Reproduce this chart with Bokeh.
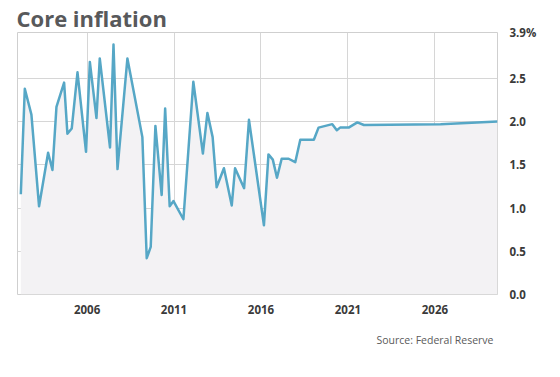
from bokeh.plotting import figure
from bokeh.models import Title, FixedTicker, ColumnDataSource
from bokeh.embed import file_html
from bokeh.resources import INLINE

# Core inflation (%)
years = [2002.19, 2002.42, 2002.80, 2003.24, 2003.76, 2004.01, 2004.24, 2004.68,
         2004.87, 2005.12, 2005.45, 2005.94, 2006.16, 2006.54, 2006.73, 2007.32,
         2007.52, 2007.75, 2008.32, 2009.18, 2009.43, 2009.66, 2009.93, 2010.29,
         2010.49, 2010.75, 2010.97, 2011.54, 2012.11, 2012.66, 2012.92, 2013.22,
         2013.45, 2013.87, 2014.32, 2014.51, 2015.03, 2015.31, 2016.17, 2016.43,
         2016.68, 2016.92, 2017.19, 2017.59, 2017.97, 2018.26, 2019.04, 2019.31,
         2020.10, 2020.36, 2020.55, 2021.04, 2021.54, 2021.92, 2026.33, 2029.60]
inflation = [1.16, 2.38, 2.08, 1.02, 1.64, 1.44, 2.17, 2.45,
             1.86, 1.92, 2.57, 1.65, 2.69, 2.04, 2.73, 1.70,
             2.89, 1.45, 2.73, 1.82, 0.42, 0.55, 1.95, 1.15,
             2.15, 1.02, 1.08, 0.87, 2.46, 1.63, 2.10, 1.82,
             1.24, 1.46, 1.03, 1.46, 1.23, 2.02, 0.80, 1.62,
             1.56, 1.35, 1.57, 1.57, 1.53, 1.79, 1.79, 1.93,
             1.97, 1.90, 1.93, 1.93, 1.99, 1.96, 1.97, 2.00]
floor = [0.0] * len(years)

x_ticks = [2006, 2011, 2016, 2021, 2026]
y_ticks = [0.0, 0.5, 1.0, 1.5, 2.0, 2.5, 3.03]
y_tick_labels = ["0.0", "0.5", "1.0", "1.5", "2.0", "2.5", "3.9%"]

title_text = "Core inflation"
source_text = "Source: Federal Reserve"

src = ColumnDataSource(dict(x=years, y=inflation, y0=floor))

p = figure(width=560, height=377, output_backend="svg", toolbar_location=None,
           x_range=(2002.0, 2029.6), y_range=(0, 3.03),
           y_axis_location="right",
           min_border_left=17, min_border_right=63, min_border_top=32,
           min_border_bottom=83)
p.background_fill_color = "white"
p.border_fill_color = "white"
p.outline_line_color = "#cfcfcf"
p.outline_line_width = 1

p.title.text = title_text
p.title.text_font = "Open Sans"
p.title.text_font_style = "bold"
p.title.text_font_size = "22px"
p.title.text_color = "#58595b"
p.title.align = "left"
p.title.offset = -1
p.title.standoff = 0

p.add_layout(Title(text=source_text, align="right", text_font="Open Sans",
                   text_font_style="normal", text_font_size="10.5px",
                   text_color="#5a5a5a", standoff=29, offset=4), "below")

p.varea(x="x", y1="y0", y2="y", source=src, fill_color="#f3f2f4")
p.line(x="x", y="y", source=src, line_color="#56a7c6", line_width=2.5,
       line_join="round")

p.xaxis.ticker = FixedTicker(ticks=x_ticks)
p.yaxis.ticker = FixedTicker(ticks=y_ticks)
p.yaxis.major_label_overrides = {t: l for t, l in zip(y_ticks, y_tick_labels)}

for ax in (p.xaxis, p.yaxis):
    ax.axis_line_color = None
    ax.major_tick_line_color = None
    ax.minor_tick_line_color = None
    ax.major_label_text_font = "Open Sans"
    ax.major_label_text_font_style = "bold"
    ax.major_label_text_font_size = "11.5px"
    ax.major_label_text_color = "#3a3a3a"
p.xaxis.major_label_standoff = 4
p.yaxis.major_label_standoff = 6

p.xgrid.grid_line_color = "#d6d6d6"
p.ygrid.grid_line_color = "#d6d6d6"
p.xgrid.ticker = FixedTicker(ticks=x_ticks)
p.ygrid.ticker = FixedTicker(ticks=y_ticks[:-1])

open("out.html", "w").write(file_html(p, INLINE))
